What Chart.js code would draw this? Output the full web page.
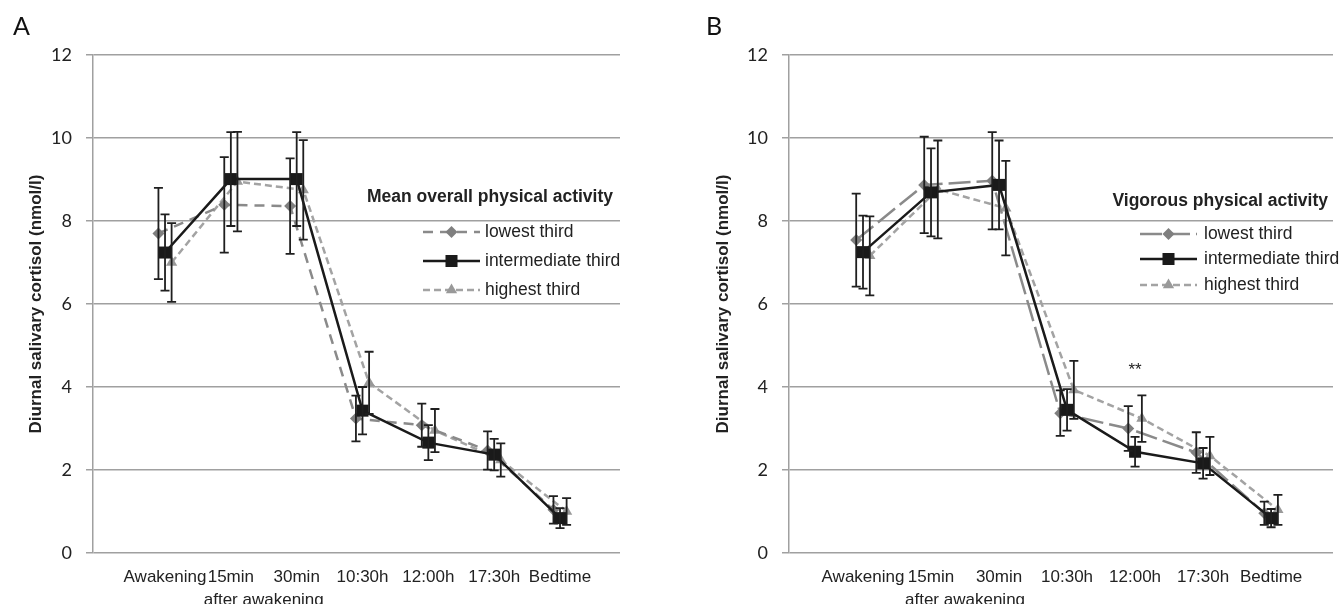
<!DOCTYPE html>
<html>
<head>
<meta charset="utf-8">
<script src="https://cdn.jsdelivr.net/npm/chart.js@4.4.1/dist/chart.umd.min.js"></script>
<style>
  html, body { margin: 0; padding: 0; background: #fff; }
  #wrap { position: relative; width: 1342px; height: 604px; overflow: hidden; }
  .panel { position: absolute; top: 0; width: 671px; height: 604px; }
</style>
</head>
<body>
<div id="wrap">
  <div class="panel" style="left:0"><canvas id="chartA" width="671" height="604"></canvas></div>
  <div class="panel" style="left:671px"><canvas id="chartB" width="671" height="604"></canvas></div>
</div>
<script>
const timePoints = ['Awakening', '15min', '30min', '10:30h', '12:00h', '17:30h', 'Bedtime'];
const groupLabels = ['lowest third', 'intermediate third', 'highest third'];
const yTicks = [0, 2, 4, 6, 8, 10, 12];

// A - mean overall physical activity (nmol/l, mean and error)
const overallLowest = [7.70, 8.39, 8.36, 3.24, 3.08, 2.47, 1.04];
const overallIntermediate = [7.24, 9.01, 9.01, 3.43, 2.66, 2.37, 0.84];
const overallHighest = [7.00, 8.95, 8.75, 4.10, 2.95, 2.24, 1.00];
const overallLowestErr = [1.10, 1.15, 1.15, 0.55, 0.52, 0.46, 0.33];
const overallIntermediateErr = [0.92, 1.13, 1.13, 0.57, 0.42, 0.38, 0.24];
const overallHighestErr = [0.95, 1.20, 1.20, 0.75, 0.52, 0.40, 0.32];

// B - vigorous physical activity
const vigorousLowest = [7.54, 8.87, 8.97, 3.37, 3.00, 2.42, 0.96];
const vigorousIntermediate = [7.25, 8.69, 8.87, 3.45, 2.44, 2.16, 0.84];
const vigorousHighest = [7.16, 8.76, 8.31, 3.93, 3.24, 2.34, 1.04];
const vigorousLowestErr = [1.12, 1.16, 1.17, 0.55, 0.54, 0.49, 0.28];
const vigorousIntermediateErr = [0.88, 1.06, 1.07, 0.50, 0.36, 0.37, 0.22];
const vigorousHighestErr = [0.95, 1.18, 1.14, 0.70, 0.56, 0.46, 0.36];

const vigorousSignif = [{ at: '12:00h', y: 4.4, text: '**' }];

const FONT = "'Liberation Sans', Arial, sans-serif";
const NUMFONT = "Lato, 'Open Sans', sans-serif";
const H = 604, W = 671, PLOT_TOP = 55, PLOT_BOTTOM = 553;

const groupStyles = [
  { line: '#8a8a8a', marker: '#7f7f7f', pointStyle: 'rectRot', radius: 6, shift: -0.1 },
  { line: '#1a1a1a', marker: '#1a1a1a', pointStyle: 'rect', radius: 8.5, shift: 0 },
  { line: '#a3a3a3', marker: '#999999', pointStyle: 'triangle', radius: 6.5, shift: 0.1 }
];

function drawMarker(ctx, style, x, y, r, color) {
  ctx.save();
  ctx.fillStyle = color;
  ctx.beginPath();
  if (style === 'rect') {
    const s = Math.SQRT1_2 * r;
    ctx.rect(x - s, y - s, 2 * s, 2 * s);
  } else if (style === 'rectRot') {
    ctx.moveTo(x, y - r); ctx.lineTo(x + r, y); ctx.lineTo(x, y + r); ctx.lineTo(x - r, y);
  } else {
    ctx.moveTo(x, y - r);
    ctx.lineTo(x + r * Math.sin(2 * Math.PI / 3), y - r * Math.cos(2 * Math.PI / 3));
    ctx.lineTo(x + r * Math.sin(4 * Math.PI / 3), y - r * Math.cos(4 * Math.PI / 3));
  }
  ctx.closePath();
  ctx.fill();
  ctx.restore();
}

const decor = {
  id: 'decor',
  afterDatasetsDraw(chart, args, opts) {
    const ctx = chart.ctx, xs = chart.scales.x, ys = chart.scales.y;
    ctx.save();
    ctx.strokeStyle = '#1f1f1f';
    ctx.lineWidth = 1.8;
    chart.data.datasets.forEach((ds, d) => {
      ds.data.forEach((p, i) => {
        const e = opts.errs[d][i];
        const px = xs.getPixelForValue(p.x);
        const t = ys.getPixelForValue(p.y + e), b = ys.getPixelForValue(p.y - e);
        ctx.beginPath();
        ctx.moveTo(px, t); ctx.lineTo(px, b);
        ctx.moveTo(px - 4.5, t); ctx.lineTo(px + 4.5, t);
        ctx.moveTo(px - 4.5, b); ctx.lineTo(px + 4.5, b);
        ctx.stroke();
      });
    });
    ctx.restore();
  },
  afterDraw(chart, args, opts) {
    const ctx = chart.ctx, xs = chart.scales.x, ys = chart.scales.y;
    ctx.save();
    // panel letter
    ctx.fillStyle = '#111';
    ctx.font = '25px ' + NUMFONT;
    ctx.textAlign = 'left';
    ctx.textBaseline = 'alphabetic';
    ctx.fillText(opts.letter, opts.letterX, 35);
    // second line of the x labels
    ctx.fillStyle = '#222';
    ctx.font = '17px ' + FONT;
    ctx.textAlign = 'center';
    ctx.fillText('after awakening', xs.getPixelForValue(1.5), 605);
    // legend
    const lg = opts.legend;
    ctx.font = 'bold 17.5px ' + FONT;
    ctx.textAlign = 'right';
    ctx.textBaseline = 'middle';
    ctx.fillText(lg.title, lg.titleRight, lg.titleY);
    ctx.font = '17.5px ' + FONT;
    ctx.textAlign = 'left';
    chart.data.datasets.forEach((ds, d) => {
      const yy = lg.rows[d];
      ctx.save();
      ctx.strokeStyle = ds.borderColor;
      ctx.lineWidth = ds.borderWidth;
      ctx.setLineDash(ds.borderDash || []);
      ctx.beginPath();
      ctx.moveTo(lg.lineStart, yy); ctx.lineTo(lg.lineEnd, yy);
      ctx.stroke();
      ctx.restore();
      const st = groupStyles[d];
      drawMarker(ctx, st.pointStyle, (lg.lineStart + lg.lineEnd) / 2, yy, st.radius, st.marker);
      ctx.fillStyle = '#222';
      ctx.fillText(ds.label, lg.textX, yy);
    });
    // significance marks
    ctx.font = '17px ' + FONT;
    ctx.textAlign = 'center';
    (opts.signif || []).forEach(s => {
      ctx.fillText(s.text, xs.getPixelForValue(timePoints.indexOf(s.at)), ys.getPixelForValue(s.y));
    });
    ctx.restore();
  }
};

function makePanel(id, p) {
  const datasets = p.means.map((vals, d) => ({
    label: groupLabels[d],
    data: vals.map((v, i) => ({ x: i + groupStyles[d].shift, y: v })),
    borderColor: groupStyles[d].line,
    borderWidth: 2.5,
    borderDash: p.dashes[d],
    pointStyle: groupStyles[d].pointStyle,
    pointRadius: groupStyles[d].radius,
    pointBackgroundColor: groupStyles[d].marker,
    pointBorderWidth: 0,
    pointHoverRadius: groupStyles[d].radius,
    tension: 0,
    fill: false,
    order: d === 1 ? 0 : 1
  }));
  return new Chart(document.getElementById(id), {
    type: 'line',
    data: { datasets },
    plugins: [decor],
    options: {
      responsive: false,
      animation: false,
      events: [],
      layout: { padding: { top: PLOT_TOP, right: W - p.plotRight, bottom: 0, left: 0 } },
      plugins: {
        legend: { display: false },
        tooltip: { enabled: false },
        decor: {
          errs: p.errs, letter: p.letter, letterX: p.letterX,
          legend: p.legend, signif: p.signif
        }
      },
      scales: {
        x: {
          type: 'linear',
          min: p.xMin,
          max: p.xMax,
          afterBuildTicks: s => { s.ticks = timePoints.map((_, i) => ({ value: i })); },
          afterFit: s => { s.height = H - PLOT_BOTTOM; },
          grid: { display: false, drawTicks: false },
          border: { display: false },
          ticks: {
            autoSkip: false, maxRotation: 0, padding: 14,
            color: '#222', font: { family: FONT, size: 17 },
            callback: v => timePoints[v]
          }
        },
        y: {
          min: 0,
          max: 12,
          afterBuildTicks: s => { s.ticks = yTicks.map(v => ({ value: v })); },
          afterFit: s => { s.width = p.plotLeft; },
          grid: { color: '#a0a0a0', lineWidth: 1.5, tickLength: 7 },
          border: { display: true, color: '#a0a0a0', width: 1.5 },
          ticks: { padding: 14, color: '#222', font: { family: NUMFONT, size: 18 } },
          title: {
            display: true,
            text: 'Diurnal salivary cortisol (nmol/l)',
            color: '#222',
            font: { family: FONT, size: 17, weight: 'bold' },
            padding: { top: p.titleX - 10.2, bottom: 0 }
          }
        }
      }
    }
  });
}

makePanel('chartA', {
  letter: 'A', letterX: 13,
  means: [overallLowest, overallIntermediate, overallHighest],
  errs: [overallLowestErr, overallIntermediateErr, overallHighestErr],
  dashes: [[10, 7], [], [7, 4]],
  plotLeft: 93, plotRight: 620, xMin: -1.094, xMax: 6.911, titleX: 36,
  legend: { title: 'Mean overall physical activity', titleRight: 613, titleY: 197,
            lineStart: 423, lineEnd: 480, textX: 485, rows: [232, 261, 290] }
});

makePanel('chartB', {
  letter: 'B', letterX: 35,
  means: [vigorousLowest, vigorousIntermediate, vigorousHighest],
  errs: [vigorousLowestErr, vigorousIntermediateErr, vigorousHighestErr],
  dashes: [[22, 6], [], [7, 4]],
  plotLeft: 118, plotRight: 662, xMin: -1.088, xMax: 6.91, titleX: 52,
  signif: vigorousSignif,
  legend: { title: 'Vigorous physical activity', titleRight: 657, titleY: 201,
            lineStart: 469, lineEnd: 526, textX: 533, rows: [234, 259, 285] }
});
</script>
</body>
</html>
